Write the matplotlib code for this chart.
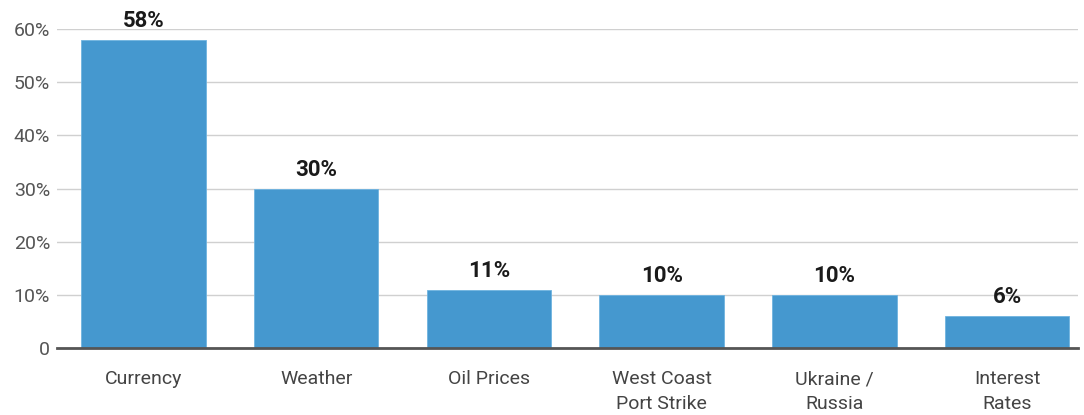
import matplotlib
matplotlib.use("Agg")
import matplotlib.pyplot as plt

categories = ["Currency", "Weather", "Oil Prices", "West Coast\nPort Strike", "Ukraine /\nRussia", "Interest\nRates"]
values = [58, 30, 11, 10, 10, 6]
yticks = [0, 10, 20, 30, 40, 50, 60]
ytick_labels = ["0", "10%", "20%", "30%", "40%", "50%", "60%"]

plt.rcParams['font.family'] = ['Roboto', 'DejaVu Sans']

fig = plt.figure(figsize=(10.84, 4.15), dpi=100)
ax = fig.add_axes([0.0526, 0.1614, 0.9419, 0.7686])

x = range(len(categories))
bars = ax.bar(x, values, width=0.72, color="#4598cf", edgecolor="#6fb4e0", linewidth=0.6, zorder=3)

for b, v in zip(bars, values):
    ax.text(b.get_x() + b.get_width() / 2, v + 1.5, f"{v}%", ha="center", va="bottom",
            fontsize=16, fontweight="bold", color="#1a1a1a", clip_on=False)

ax.set_xlim(-0.5, 5.41)
ax.set_ylim(0, 60)
ax.set_yticks(yticks)
ax.set_yticklabels(ytick_labels)
ax.set_xticks(list(x))
ax.set_xticklabels(categories, linespacing=1.45)

ax.grid(axis="y", color="#d0d0d0", linewidth=1, zorder=0)
for s in ["top", "right", "left"]:
    ax.spines[s].set_visible(False)
ax.spines["bottom"].set_color("#555555")
ax.spines["bottom"].set_linewidth(2)
ax.spines["bottom"].set_zorder(4)

ax.tick_params(axis="y", length=0, pad=5, labelsize=14, labelcolor="#555555")
ax.tick_params(axis="x", length=0, pad=16, labelsize=14, labelcolor="#444444")

fig.savefig("out.png", dpi=100)
